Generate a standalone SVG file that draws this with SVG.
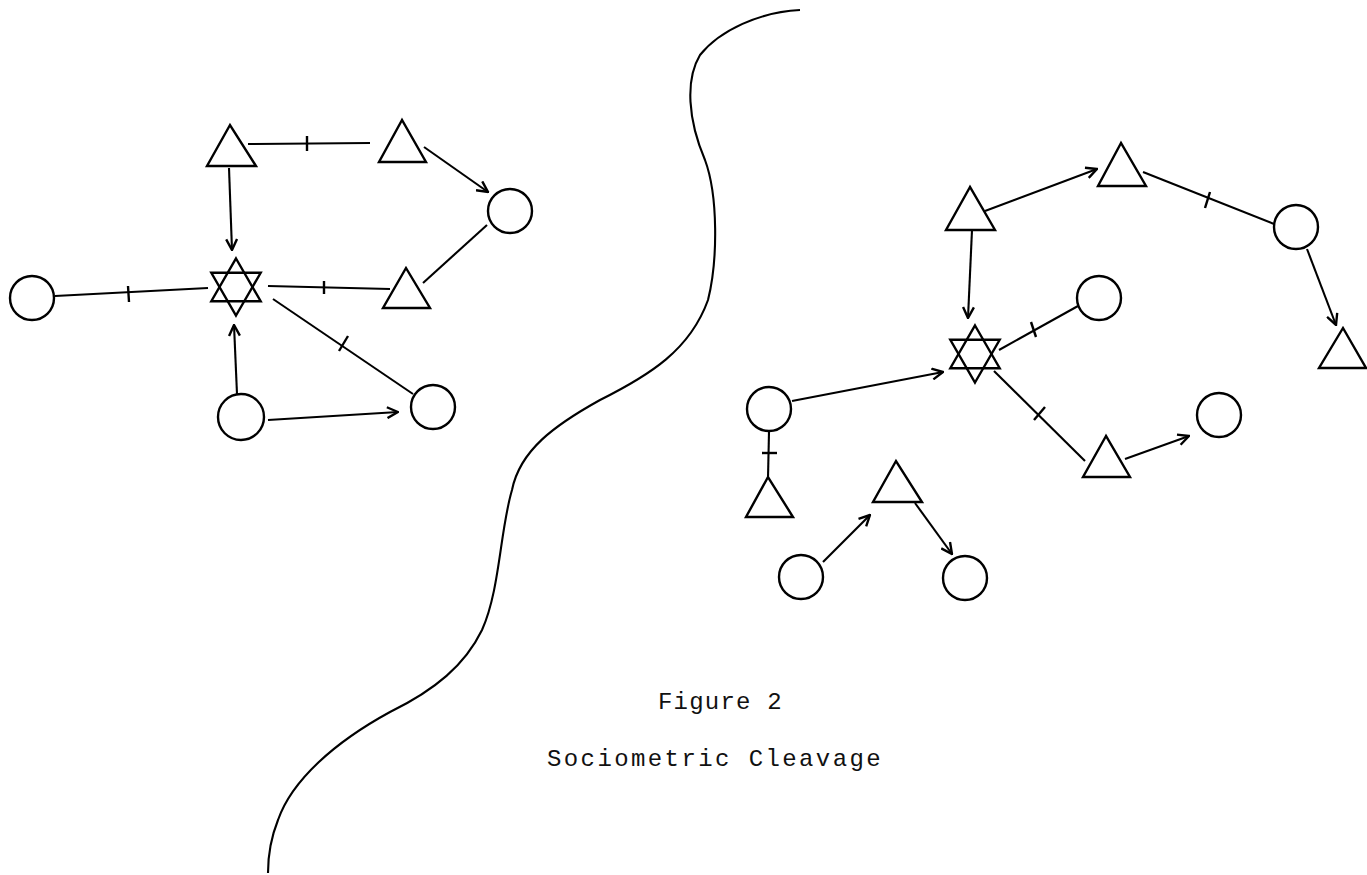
<svg xmlns="http://www.w3.org/2000/svg" width="1367" height="875" viewBox="0 0 1367 875">
  <defs>
    <marker id="arrow" viewBox="0 0 12 12" refX="11" refY="6" markerWidth="13" markerHeight="13" markerUnits="userSpaceOnUse" orient="auto">
      <path d="M1,1 L11,6 L1,11" fill="none" stroke="#000" stroke-width="2.2"/>
    </marker>
    <g id="star">
      <polygon points="0,-28.5 24.7,14.25 -24.7,14.25"/>
      <polygon points="0,28.5 24.7,-14.25 -24.7,-14.25"/>
    </g>
  </defs>
  <style>
    .node circle, .node polygon, .node use { fill: none; stroke: #000; stroke-width: 2.4; stroke-linejoin: miter; }
    .edge { stroke: #000; stroke-width: 2.1; fill: none; }
    .tick { stroke: #000; stroke-width: 2.4; }
    .arr { marker-end: url(#arrow); }
    .caption { font-family: "Liberation Mono", "DejaVu Sans Mono", monospace; font-size: 24px; fill: #111; }
  </style>
  <rect width="1367" height="875" fill="#fff"/>

  <!-- dividing boundary between the two groups -->
  <path id="boundary" class="edge" d="M800,10 C760,12 720,30 700,55 C685,80 688,120 705,160 C718,195 718,260 708,300 C690,350 650,375 600,400 C555,425 520,450 512,490 C500,530 500,590 482,630 C465,665 435,690 390,712 C335,742 292,780 278,820 C270,840 268,860 268,873"/>

  <!-- connectors -->
  <g id="connectors">
    <!-- left group -->
    <line class="edge arr" x1="229" y1="168" x2="232" y2="250"/>
    <line class="edge" x1="248" y1="144" x2="370" y2="143"/>
    <line class="tick" x1="307" y1="136" x2="307" y2="151"/>
    <line class="edge arr" x1="424" y1="147" x2="488" y2="192"/>
    <line class="edge" x1="487" y1="225" x2="423" y2="283" stroke-width="2.6"/>
    <line class="edge" x1="268" y1="286" x2="390" y2="289"/>
    <line class="tick" x1="324" y1="281" x2="324" y2="294"/>
    <line class="edge" x1="273" y1="299" x2="413" y2="394"/>
    <line class="tick" x1="348" y1="336" x2="339" y2="351"/>
    <line class="edge" x1="55" y1="296" x2="208" y2="288"/>
    <line class="tick" x1="128" y1="286" x2="129" y2="302"/>
    <line class="edge arr" x1="237" y1="394" x2="234" y2="325"/>
    <line class="edge arr" x1="268" y1="420" x2="398" y2="412"/>

    <!-- right group -->
    <line class="edge arr" x1="985" y1="211" x2="1097" y2="169"/>
    <line class="edge" x1="1143" y1="172" x2="1274" y2="224"/>
    <line class="tick" x1="1210" y1="192" x2="1205" y2="208"/>
    <line class="edge arr" x1="1307" y1="249" x2="1336" y2="325"/>
    <line class="edge arr" x1="972" y1="230" x2="968" y2="318"/>
    <line class="edge" x1="999" y1="350" x2="1078" y2="306"/>
    <line class="tick" x1="1031" y1="322" x2="1036" y2="337"/>
    <line class="edge arr" x1="792" y1="401" x2="943" y2="372"/>
    <line class="edge" x1="769" y1="432" x2="768" y2="478"/>
    <line class="tick" x1="762" y1="453" x2="777" y2="453"/>
    <line class="edge" x1="994" y1="371" x2="1085" y2="461"/>
    <line class="tick" x1="1045" y1="407" x2="1034" y2="420"/>
    <line class="edge arr" x1="1125" y1="459" x2="1189" y2="436" stroke-width="3"/>
    <line class="edge arr" x1="823" y1="562" x2="870" y2="515"/>
    <line class="edge arr" x1="915" y1="503" x2="952" y2="554"/>
  </g>

  <!-- left group nodes -->
  <g id="l-tri-top" class="node"><polygon points="230,125 207,166 256,166"/></g>
  <g id="l-tri-top-right" class="node"><polygon points="402,120 379,162 426,162"/></g>
  <g id="l-circle-right" class="node"><circle cx="510" cy="211" r="22"/></g>
  <g id="l-tri-mid" class="node"><polygon points="406,268 383,308 430,308"/></g>
  <g id="l-circle-lower-right" class="node"><circle cx="433" cy="407" r="22"/></g>
  <g id="l-star" class="node"><use href="#star" x="236" y="287"/></g>
  <g id="l-circle-far-left" class="node"><circle cx="32" cy="298" r="22"/></g>
  <g id="l-circle-bottom" class="node"><circle cx="241" cy="417" r="23"/></g>

  <!-- right group nodes -->
  <g id="r-tri-left" class="node"><polygon points="970,187 946,230 995,230"/></g>
  <g id="r-tri-top" class="node"><polygon points="1121,143 1098,186 1146,186"/></g>
  <g id="r-circle-top-right" class="node"><circle cx="1296" cy="227" r="22"/></g>
  <g id="r-tri-far-right" class="node"><polygon points="1343,328 1319,368 1366,368"/></g>
  <g id="r-circle-mid" class="node"><circle cx="1099" cy="298" r="22"/></g>
  <g id="r-star" class="node"><use href="#star" x="975" y="354"/></g>
  <g id="r-circle-left" class="node"><circle cx="769" cy="409" r="22"/></g>
  <g id="r-tri-lower-left" class="node"><polygon points="768,477 746,517 793,517"/></g>
  <g id="r-tri-bottom" class="node"><polygon points="896,461 873,502 922,502"/></g>
  <g id="r-circle-bottom-left" class="node"><circle cx="801" cy="577" r="22"/></g>
  <g id="r-circle-bottom-right" class="node"><circle cx="965" cy="578" r="22"/></g>
  <g id="r-tri-lower-right" class="node"><polygon points="1106,436 1083,477 1130,477"/></g>
  <g id="r-circle-lower-right" class="node"><circle cx="1219" cy="415" r="22"/></g>

  <!-- caption -->
  <text class="caption" x="658" y="709" letter-spacing="1.2">Figure 2</text>
  <text class="caption" x="547" y="766" letter-spacing="2.4">Sociometric Cleavage</text>
</svg>
